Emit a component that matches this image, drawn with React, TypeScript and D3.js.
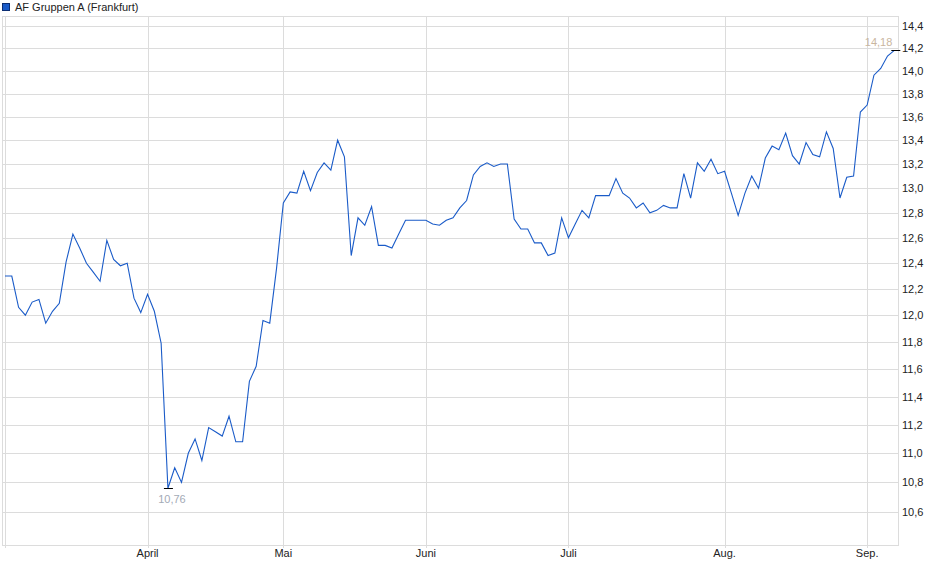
import React from "react";
import * as d3 from "d3";

const title = "AF Gruppen A (Frankfurt)";

// Closing prices per trading day (Mar – early Sep)
const prices: number[] = [
  12.30, 12.30, 12.06, 12.00, 12.10, 12.12, 11.94, 12.03, 12.09, 12.41,
  12.63, 12.52, 12.40, 12.33, 12.26, 12.58, 12.43, 12.38, 12.40, 12.13,
  12.02, 12.16, 12.03, 11.79, 10.76, 10.90, 10.80, 11.00, 11.10, 10.95,
  11.18, 11.15, 11.12, 11.26, 11.08, 11.08, 11.51, 11.62, 11.96, 11.94,
  12.36, 12.88, 12.97, 12.96, 13.14, 12.98, 13.13, 13.21, 13.15, 13.40,
  13.26, 12.46, 12.76, 12.70, 12.85, 12.54, 12.54, 12.52, 12.63, 12.74,
  12.74, 12.74, 12.74, 12.71, 12.70, 12.74, 12.76, 12.84, 12.90, 13.11,
  13.18, 13.21, 13.18, 13.20, 13.20, 12.75, 12.67, 12.67, 12.56, 12.56,
  12.46, 12.48, 12.76, 12.60, 12.71, 12.82, 12.76, 12.94, 12.94, 12.94,
  13.08, 12.96, 12.92, 12.84, 12.88, 12.80, 12.82, 12.86, 12.84, 12.84,
  13.12, 12.92, 13.21, 13.14, 13.24, 13.12, 13.14, 12.96, 12.78, 12.96,
  13.10, 13.00, 13.25, 13.35, 13.32, 13.46, 13.27, 13.20, 13.38, 13.28,
  13.26, 13.47, 13.33, 12.92, 13.09, 13.10, 13.64, 13.70, 13.96, 14.02,
  14.13, 14.18,
];

const monthLabels = ["", "April", "Mai", "Juni", "Juli", "Aug.", "Sep."];
const monthStartIndex = [0, 21, 41, 62, 83, 106, 127];

const yTicks = [10.6, 10.8, 11.0, 11.2, 11.4, 11.6, 11.8, 12.0, 12.2, 12.4, 12.6, 12.8, 13.0, 13.2, 13.4, 13.6, 13.8, 14.0, 14.2, 14.4];
const yDomain = [10.382, 14.491];

const W = 940;
const H = 579;
const left = 3;
const right = 898;
const top = 16;
const bottom = 545;

const fmt = (v: number, d: number) => v.toFixed(d).replace(".", ",");
const crisp = (v: number) => Math.round(v) + 0.5;

export default function App() {
  const x = d3.scaleLinear().domain([0, prices.length - 1]).range([5, 894.3]);
  const y = d3.scaleLog().domain(yDomain).range([bottom, top]);
  const line = d3
    .line<number>()
    .x((_, i) => x(i))
    .y((d) => y(d));

  const minVal = d3.min(prices)!;
  const maxVal = d3.max(prices)!;
  const minIdx = prices.indexOf(minVal);
  const maxIdx = prices.lastIndexOf(maxVal);

  return (
    <svg
      width={W}
      height={H}
      style={{ position: "absolute", left: 0, top: 0, background: "#fff" }}
      fontFamily="'Liberation Sans', Arial, sans-serif"
    >
      {/* legend */}
      <rect x={2.5} y={3.5} width={7} height={7} fill="#1a5bc8" stroke="#0b2e73" strokeWidth={1} />
      <text x={15} y={11} fontSize={11} fill="#222">
        {title}
      </text>

      {/* horizontal grid */}
      {yTicks.map((t) => (
        <line key={"h" + t} x1={left} x2={right} y1={crisp(y(t))} y2={crisp(y(t))} stroke="#dcdcdc" strokeWidth={1} />
      ))}
      {/* vertical grid */}
      {monthStartIndex.map((m, i) => (
        <line
          key={"v" + i}
          x1={crisp(x(m))}
          x2={crisp(x(m))}
          y1={top}
          y2={bottom + 3}
          stroke="#dcdcdc"
          strokeWidth={1}
        />
      ))}
      {/* frame */}
      <rect x={left - 0.5} y={top + 0.5} width={right - left + 1} height={bottom - top} fill="none" stroke="#dcdcdc" strokeWidth={1} />

      {/* y labels */}
      {yTicks.map((t) => (
        <text key={"yl" + t} x={902} y={y(t) + 4} fontSize={11} fill="#222">
          {fmt(t, 1)}
        </text>
      ))}
      {/* month labels */}
      {monthStartIndex.map((m, i) =>
        monthLabels[i] ? (
          <text key={"ml" + i} x={x(m)} y={557} fontSize={11} fill="#222" textAnchor="middle">
            {monthLabels[i]}
          </text>
        ) : null
      )}

      {/* price line */}
      <path d={line(prices) || ""} fill="none" stroke="#1a5bc8" strokeWidth={1.1} />

      {/* min marker */}
      <line x1={x(minIdx) - 4} x2={x(minIdx) + 5} y1={crisp(y(minVal))} y2={crisp(y(minVal))} stroke="#000" strokeWidth={1} />
      <text x={x(minIdx) + 4} y={y(minVal) + 15} fontSize={11} fill="#a3aab6" textAnchor="middle">
        {fmt(minVal, 2)}
      </text>
      {/* max marker */}
      <line x1={x(maxIdx) - 3} x2={x(maxIdx) + 6} y1={crisp(y(maxVal))} y2={crisp(y(maxVal))} stroke="#000" strokeWidth={1} />
      <text x={x(maxIdx) - 2} y={y(maxVal) - 4} fontSize={11} fill="#c9b6a0" textAnchor="end">
        {fmt(maxVal, 2)}
      </text>
    </svg>
  );
}
